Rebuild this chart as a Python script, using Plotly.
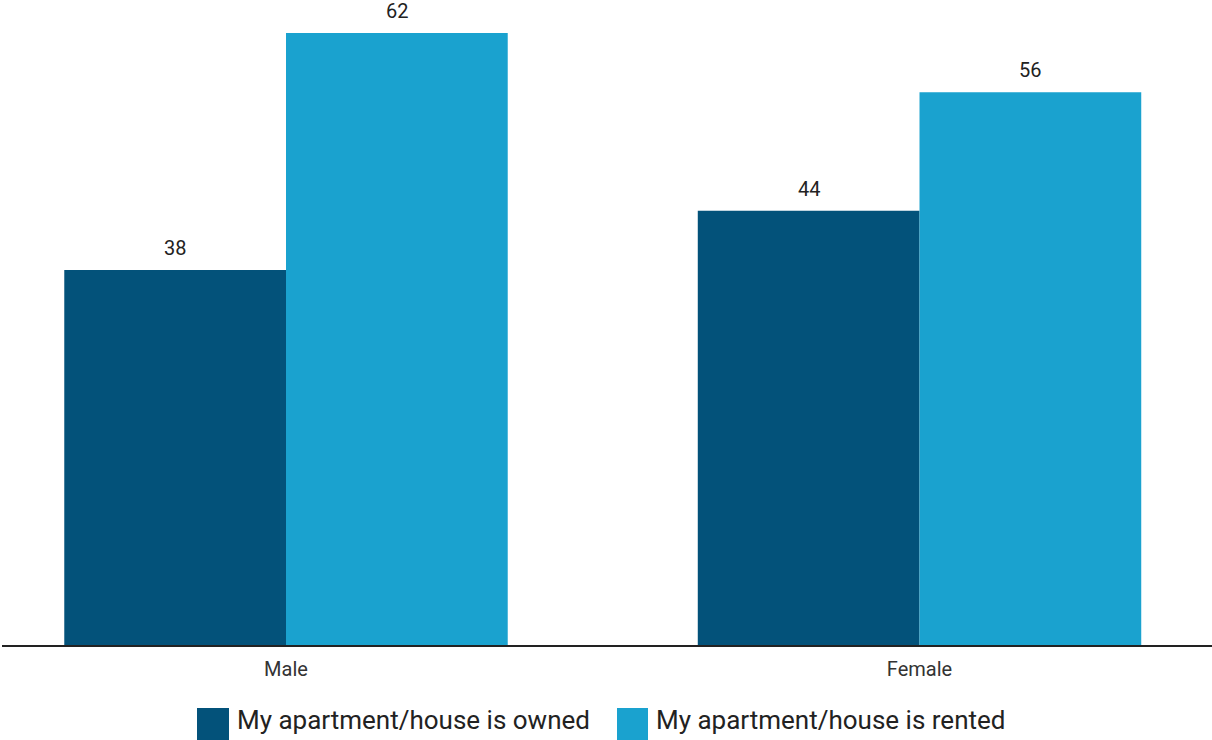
import plotly.graph_objects as go

categories = ["Male", "Female"]
owned = [38, 44]
rented = [62, 56]
series_names = ["My apartment/house is owned", "My apartment/house is rented"]
series_colors = ["#03527A", "#1AA2CF"]

W, H = 1212, 740
ML, MR, MT, MB = 2, 0, 0, 95
BARGAP = 0.3

fig = go.Figure()
for name, vals, color in zip(series_names, [owned, rented], series_colors):
    fig.add_trace(go.Bar(
        x=list(range(len(categories))), y=vals, name=name,
        marker=dict(color=color, line=dict(width=0)),
        showlegend=False,
    ))

# value labels above each bar of the group
n_series = 2
bar_w = (1 - BARGAP) / n_series
for s, vals in enumerate([owned, rented]):
    off = -(1 - BARGAP) / 2 + bar_w * (s + 0.5)
    for i, v in enumerate(vals):
        fig.add_annotation(x=i + off, y=v, text=str(v), showarrow=False,
                           xanchor="center", yanchor="bottom", yshift=8,
                           font=dict(family="Roboto", size=20, color="#222222"))

# custom legend drawn below the axis
pw, ph = W - ML - MR, H - MT - MB
def px_to_paper_x(px):
    return (px - ML) / pw
def px_to_paper_y(py):
    return (H - MB - py) / ph

legend_items = [(197, 229, 235), (617, 648, 654)]
for (x0, x1, tx), name, color in zip(legend_items, series_names, series_colors):
    fig.add_shape(type="rect", xref="paper", yref="paper",
                  x0=px_to_paper_x(x0), x1=px_to_paper_x(x1),
                  y0=px_to_paper_y(744), y1=px_to_paper_y(708),
                  fillcolor=color, line=dict(width=0), layer="above")
    fig.add_annotation(xref="paper", yref="paper", x=px_to_paper_x(tx),
                       y=px_to_paper_y(720), text=name, showarrow=False,
                       xanchor="left", yanchor="middle",
                       font=dict(family="Roboto", size=26, color="#222222"))

fig.update_layout(
    width=W, height=H,
    margin=dict(l=ML, r=MR, t=MT, b=MB),
    plot_bgcolor="white", paper_bgcolor="white",
    barmode="group", bargap=BARGAP, bargroupgap=0,
    xaxis=dict(
        tickmode="array", tickvals=list(range(len(categories))), ticktext=categories,
        range=[-0.4483, 1.4617], showgrid=False, zeroline=False,
        showline=True, linecolor="#222222", linewidth=1.5, ticks="",
        ticklabelstandoff=5,
        tickfont=dict(family="Roboto", size=20, color="#333333"),
    ),
    yaxis=dict(range=[0, 65.34], visible=False, showgrid=False, zeroline=False),
    font=dict(family="Roboto"),
)

fig.write_html("out.html")
